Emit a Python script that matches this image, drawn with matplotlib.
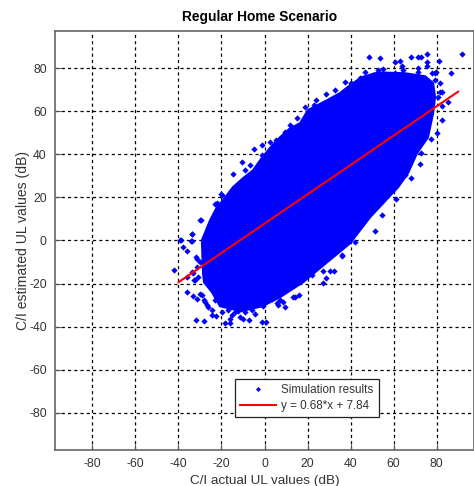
import matplotlib
matplotlib.use('Agg')
import matplotlib.pyplot as plt

plt.rcParams['font.family'] = ['Liberation Sans', 'DejaVu Sans']
plt.rcParams['axes.unicode_minus'] = False

# Outline of the solid blue cloud (the single points
# inside it can't be told apart, so the dense part is drawn as one area)
cloud_x = [-28.1, -28.6, -29.1, -25.3, -22.1, -19.3, -14.7, -10, -5.3, -1.5, 2.6, 7.2,
           11.9, 16.5, 20.2, 29.1, 35.1, 39.8, 45.3, 52.8, 65.3, 74.7, 78.4, 79.3,
           78.4, 76, 70.9, 66.7, 62.1, 49.1, 39.8, 29.1, 17.9, 7.2, -1, -10.9,
           -20.7, -24.4]
cloud_y = [-19.4, -15.2, 0.1, 9.4, 15.5, 18.7, 24.7, 28.9, 32.6, 38, 43, 47.9,
           52.1, 54.4, 60.5, 65.1, 68.4, 72.1, 75.8, 78, 77.6, 76.2, 73, 66.5,
           59.1, 47.9, 40.5, 31.2, 24.7, 10.8, -1.3, -10.1, -19.4, -26.3, -30.5, -32.8,
           -30.5, -24]

# Points that stand clear of the cloud or roughen its edge
outlier_x = [48.6, 53.7, 60.7, 63, 68.1, 71.3, 72.8, 75.7, 91.7, 81.2, 75.4, 86.6, 64,
             46.7, 44.4, 79.3, 82.4, 85.5, 82.4, 82.4, 80.6, 80.1, 77.4, 72.8, 72.2, 68,
             51.5, 61.3, 54.7, -5, -1.2, -10.5, 23.2, 28.8,
             -14.5, -30, -20.4, -39.3, -33.9, -33.9, -23,
             -42.1, -39, -38, -35.9, -33.9, -34.2, -29.7, -31.9, -33.1, -32.7, -35.9,
             -33.4, -31.3, -29.2, -31.9, -28.1, -27.7, -26.1, -24.6, -22.7, -18.4, -16,
             -15.3, -12.2, -11.4, -7.1, -1.3, 0.7,
             9.5, 6.4, 14.2, 16.2, 27.2, 28.6, 30.5, 32.3, 27.3, 35.9,
             -33.9, -36.2, -31.5, -32.3, -30.8, -31.5, -30, -16, -9.9, -6, -30, -28, -26.9,
             -19.9, -22.2, -9.1, 2.6, -6.7, -1.3,
             52.9, 55.3, 64.5, 71.3, 75.4, 71.3, 77.8, 79.8, 81.6, 79.3, 81.6, 50.6, 40.2,
             60.7, 65.3,
             13.3, 7.2, 5.8, 8.6, 3.5, -0.7, 36, 22.1, 42.1,
             -23, -19.8, -17, -13.7, -9.1, -4.4, -24.4, -18.4,
             11.9, 15.1, 18.8, 24, 32.8, 37.4, 9.5, 5.3]
outlier_y = [85.2, 84.7, 82.9, 83.3, 85.2, 85.2, 85.2, 86.3, 86.3, 83.2, 82.9, 77.8, 80.9,
             78, 75.4, 77.6, 69, 64.3, 62.3, 55.8, 66.6, 49.7, 47.3, 40.4, 35.7, 28.8,
             4.3, 19.2, 11.7, 42.4, 44.5, 36.2, 62.8, 67.9,
             31, 9.7, 21.5, 0.1, 2.9, -0.2, 16.8,
             -13.5, 0.1, -3.1, -4.8, 3.2, -0.3, 9.7, -7.6, -15.3, -18.4, -23.9,
             -25.7, -27.2, -25.4, -36.7, -37.3, -28.5, -30.8, -34.7, -35.1, -38.5, -38.2,
             -34.7, -32.7, -35.7, -37, -38, -38,
             -30.8, -30, -26.2, -25.4, -19.5, -17.2, -14.1, -14.1, -14.1, -6.8,
             -14.6, -16.9, -12.2, -18.4, -16.9, -8.4, -9.9, -36.2, -36.2, -32.3, -24.6, -27.7, -30,
             21, 17.2, 32.9, 45.5, 34.9, 39.6,
             79, 79.4, 79, 80, 80.9, 78.2, 77.5, 78.2, 72.9, 74.4, 69, 76.7, 73,
             77.5, 30.3,
             -26.3, -27.7, -29.1, -28.6, -27.2, -30.5, -7.3, -16.1, -0.8,
             -27.7, -33.3, -32.4, -33.3, -33.3, -34.2, -32.4, -29.1,
             53.5, 56.7, 61.9, 65.1, 69.7, 73.5, 50.2, 46.5]

# Fitted line
fit_x = [-40, 90]
fit_y = [-19.36, 69.04]

ticks = [-80, -60, -40, -20, 0, 20, 40, 60, 80]

fig = plt.figure(figsize=(4.74, 4.86), dpi=100)
ax = fig.add_axes([55 / 474, 36 / 486, 419 / 474, 419 / 486])

ax.fill(cloud_x, cloud_y, color='#0000ff', linewidth=1.5, zorder=3)
ax.plot(outlier_x, outlier_y, 'D', color='#0000ff', markersize=3.2, markeredgewidth=0,
        label='Simulation results', zorder=3)
ax.plot(fit_x, fit_y, color='#ff0000', linewidth=1.5, label='y = 0.68*x + 7.84', zorder=4)

ax.set_xlim(-97.4, 97.4)
ax.set_ylim(-97.2, 97.2)
ax.set_xticks(ticks)
ax.set_yticks(ticks)
ax.grid(True, linestyle=(0, (2.5, 2.5)), color='black', linewidth=0.9)
ax.set_axisbelow(True)
ax.tick_params(direction='in', length=4, width=0.8, color='#555555', labelcolor='#333333',
               labelsize=8.8, pad=6)

for spine in ax.spines.values():
    spine.set_color('#666666')
    spine.set_linewidth(1.2)

ax.set_title('Regular Home Scenario', fontsize=9.9, fontweight='bold', x=0.489, pad=7.5)
ax.set_xlabel('C/I actual UL values (dB)', fontsize=9.7, color='#333333', labelpad=3)
ax.set_ylabel('C/I estimated UL values (dB)', fontsize=10.1, color='#333333', labelpad=-1)

leg = ax.legend(loc='lower left', bbox_to_anchor=(179.5 / 419, 33 / 419), fontsize=8.4,
                fancybox=False, framealpha=1, edgecolor='#222222', borderpad=0.45,
                labelspacing=0.3, handlelength=3.1, handletextpad=0.45, borderaxespad=0,
                markerscale=0.8)
leg.get_frame().set_linewidth(0.9)
for text in leg.get_texts():
    text.set_color('#333333')

fig.savefig('out.png', dpi=100)
